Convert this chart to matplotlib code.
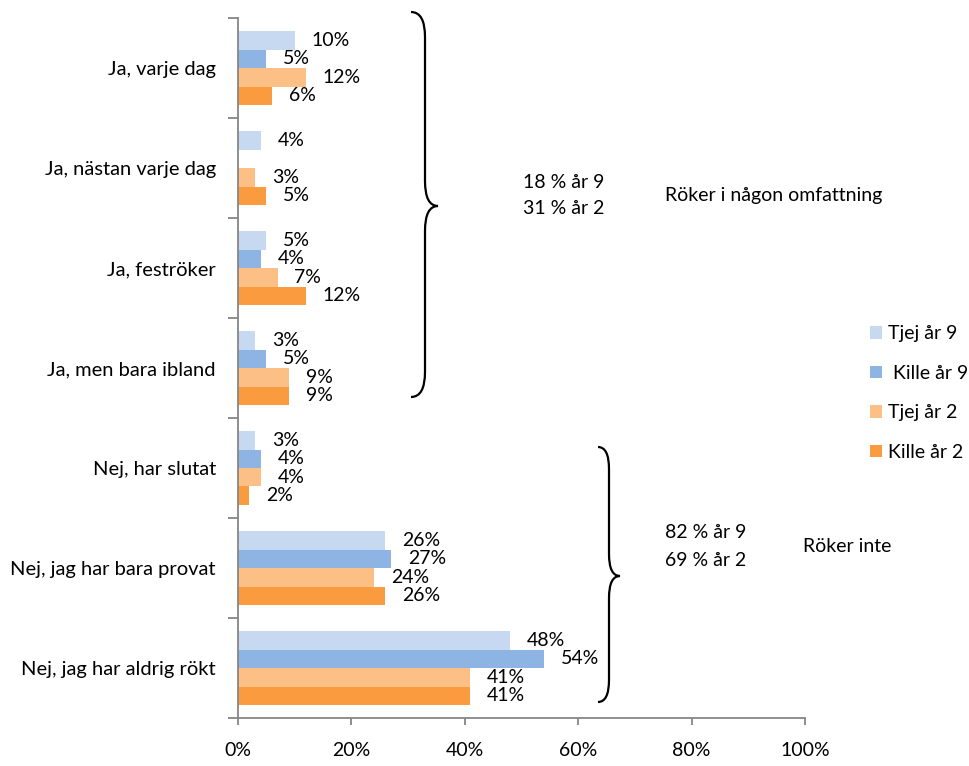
import matplotlib
matplotlib.use("Agg")
import matplotlib.pyplot as plt
import numpy as np
from matplotlib.path import Path
from matplotlib.patches import PathPatch

plt.rcParams['font.family'] = ['Lato', 'DejaVu Sans']

categories = ["Ja, varje dag", "Ja, nästan varje dag", "Ja, feströker",
              "Ja, men bara ibland", "Nej, har slutat",
              "Nej, jag har bara provat", "Nej, jag har aldrig rökt"]
series_names = ["Tjej år 9", " Kille år 9", "Tjej år 2", "Kille år 2"]
tjej9 = [10, 4, 5, 3, 3, 26, 48]
kille9 = [5, np.nan, 4, 5, 4, 27, 54]
tjej2 = [12, 3, 7, 9, 4, 24, 41]
kille2 = [6, 5, 12, 9, 2, 26, 41]
colors = ["#C6D9F1", "#8DB4E2", "#FCC087", "#F99B3E"]
xticks = [0, 20, 40, 60, 80, 100]
xticklabels = ["0%", "20%", "40%", "60%", "80%", "100%"]

W, H = 969, 766
fig = plt.figure(figsize=(W / 100, H / 100), dpi=100)
ax = fig.add_axes([238 / W, 1 - 718 / H, (805 - 238) / W, (718 - 18) / H])

fs = 14
y = np.arange(len(categories))
h = 0.185
offsets = [-1.5 * h, -0.5 * h, 0.5 * h, 1.5 * h]
all_series = [tjej9, kille9, tjej2, kille2]
handles = []
for vals, off, c, name in zip(all_series, offsets, colors, series_names):
    v = np.array(vals, dtype=float)
    b = ax.barh(y + off, np.nan_to_num(v), height=h, color=c, label=name)
    handles.append(b)
    for yi, vi in zip(y + off, v):
        if not np.isnan(vi):
            ax.annotate(f"{int(vi)}%", xy=(vi, yi), xytext=(12, 0),
                        textcoords="offset points", va="center", ha="left",
                        fontsize=fs, color="#000000")

ax.set_xlim(0, 100)
ax.set_ylim(len(categories) - 0.5, -0.5)
ax.set_xticks(xticks)
ax.set_xticklabels(xticklabels, fontsize=fs)
ax.set_yticks(y)
ax.set_yticklabels(categories, fontsize=14.5)
ax.set_yticks(np.arange(len(categories) + 1) - 0.5, minor=True)
ax.tick_params(axis='y', which='major', length=0, pad=16)
ax.tick_params(axis='y', which='minor', length=7, color="#868686", width=1.3)
ax.tick_params(axis='x', length=5, color="#868686", width=1.3, pad=12)
for s in ["top", "right"]:
    ax.spines[s].set_visible(False)
for s in ["left", "bottom"]:
    ax.spines[s].set_color("#868686")
    ax.spines[s].set_linewidth(1.3)

# overlay axes in pixel coordinates for braces and annotations
ov = fig.add_axes([0, 0, 1, 1], facecolor="none")
ov.set_xlim(0, W)
ov.set_ylim(H, 0)
ov.axis("off")


def brace(x0, xv, xt, y0, y1, ym, r):
    verts = [(x0, y0), (xv, y0), (xv, y0 + r), (xv, ym - r), (xv, ym), (xt, ym),
             (xv, ym), (xv, ym + r), (xv, y1 - r), (xv, y1), (x0, y1)]
    codes = [Path.MOVETO, Path.CURVE3, Path.CURVE3, Path.LINETO, Path.CURVE3, Path.CURVE3,
             Path.CURVE3, Path.CURVE3, Path.LINETO, Path.CURVE3, Path.CURVE3]
    ov.add_patch(PathPatch(Path(verts, codes), fill=False, lw=1.6, color="black"))


brace(411, 425, 438, 12, 397, 206, 25)
brace(598, 609, 620, 447, 702, 576, 22)

ov.text(523, 182, "18 % år 9", fontsize=fs, va="center", ha="left")
ov.text(523, 209, "31 % år 2", fontsize=fs, va="center", ha="left")
ov.text(665, 196, "Röker i någon omfattning", fontsize=fs, va="center", ha="left")
ov.text(665, 533, "82 % år 9", fontsize=fs, va="center", ha="left")
ov.text(665, 560, "69 % år 2", fontsize=fs, va="center", ha="left")
ov.text(803, 547, "Röker inte", fontsize=fs, va="center", ha="left")

fig.legend(handles=handles, labels=series_names, loc="center left",
           bbox_to_anchor=(870 / W, 1 - 393 / H), frameon=False, fontsize=fs,
           handlelength=0.6, handleheight=0.6, handletextpad=0.3,
           labelspacing=1.15, borderpad=0, borderaxespad=0)

fig.savefig("out.png", dpi=100)
